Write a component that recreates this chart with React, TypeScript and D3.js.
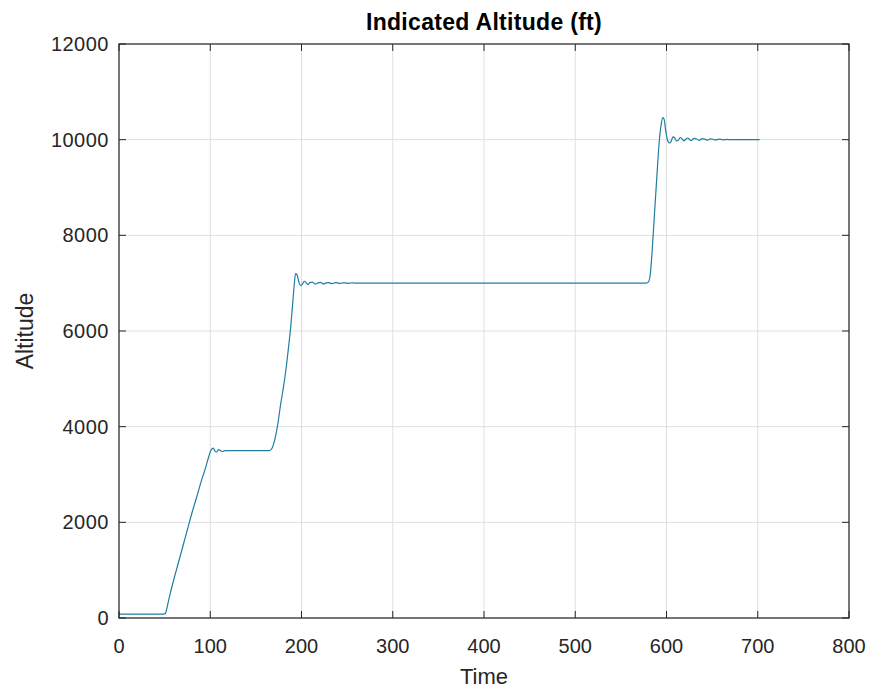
import React from 'react';
import * as d3 from 'd3';

// Indicated altitude trace
const timeVals = [
  0, 10, 20, 30, 40, 49, 51, 53, 56, 60, 65, 70, 75, 80, 85, 90, 95, 98, 100,
  102, 103.5, 105, 107, 109, 111, 113, 115, 118, 130, 145, 160, 165,
  168, 171, 174, 177, 180, 183, 186, 188, 190, 192, 193.5, 195, 197, 199, 201,
  203, 205, 207, 209, 212, 215, 218, 221, 224, 227, 230, 233, 236, 239, 242,
  245, 248, 251, 254, 257, 260, 300, 400, 500, 578,
  580, 582, 584, 586, 588, 590, 592, 594, 596, 597.5, 599, 601, 603, 605, 607,
  609, 611, 613, 615, 617, 619, 621, 623, 625, 627, 630, 633, 636, 639, 642,
  645, 648, 651, 654, 657, 660, 663, 666, 670, 680, 690, 702,
];
const altitudeVals = [
  80, 80, 80, 80, 80, 80, 100, 250, 500, 800, 1150, 1500, 1850, 2200, 2520, 2850, 3150, 3350, 3470,
  3540, 3550, 3490, 3470, 3520, 3505, 3480, 3495, 3500, 3500, 3500, 3500, 3500,
  3560, 3750, 4050, 4450, 4800, 5200, 5700, 6050, 6500, 6950, 7200, 7180, 7030, 6950, 6980,
  7040, 7010, 6970, 7010, 7020, 6980, 7005, 7015, 6985, 7005, 7012, 6990, 7005, 7010, 6992,
  7005, 7008, 6995, 7003, 7005, 7000, 7000, 7000, 7000, 7000,
  7020, 7150, 7600, 8200, 8800, 9400, 9950, 10300, 10460, 10420, 10200, 10000, 9930, 9960, 10060,
  10040, 9970, 9990, 10045, 10020, 9975, 10005, 10035, 10010, 9980, 10025, 10015, 9985, 10020, 10012,
  9988, 10015, 10008, 9992, 10010, 10005, 9995, 10005, 10000, 10000, 10000, 10000,
];
const xTicks = [0, 100, 200, 300, 400, 500, 600, 700, 800];
const yTicks = [0, 2000, 4000, 6000, 8000, 10000, 12000];

const W = 869;
const H = 690;
const plot = { left: 119, right: 849, top: 44, bottom: 618 };
const axisColor = '#262626';
const gridColor = '#dfdfdf';
const lineColor = '#1f7ea3';
const font = '"Liberation Sans", Arial, sans-serif';

export default function App() {
  const x = d3.scaleLinear().domain([0, 800]).range([plot.left, plot.right]);
  const y = d3.scaleLinear().domain([0, 12000]).range([plot.bottom, plot.top]);

  const points = timeVals.map((t, i) => [t, altitudeVals[i]] as [number, number]);
  const path = d3.line<[number, number]>()
    .x(d => x(d[0]))
    .y(d => y(d[1]))
    .curve(d3.curveMonotoneX)(points) || '';

  const tick = 7;

  return (
    <svg width={W} height={H} style={{ position: 'absolute', left: 0, top: 0, background: '#fff' }}>
      <rect x={0} y={0} width={W} height={H} fill="#fff" />

      {/* grid */}
      {xTicks.map(t => (
        <line key={'gx' + t} x1={x(t)} x2={x(t)} y1={plot.top} y2={plot.bottom} stroke={gridColor} strokeWidth={1} />
      ))}
      {yTicks.map(t => (
        <line key={'gy' + t} x1={plot.left} x2={plot.right} y1={y(t)} y2={y(t)} stroke={gridColor} strokeWidth={1} />
      ))}

      {/* data */}
      <path d={path} fill="none" stroke={lineColor} strokeWidth={1.2} />

      {/* box */}
      <rect x={plot.left} y={plot.top} width={plot.right - plot.left} height={plot.bottom - plot.top}
        fill="none" stroke={axisColor} strokeWidth={1.2} />

      {/* ticks */}
      {xTicks.map(t => (
        <g key={'tx' + t}>
          <line x1={x(t)} x2={x(t)} y1={plot.bottom} y2={plot.bottom - tick} stroke={axisColor} />
          <line x1={x(t)} x2={x(t)} y1={plot.top} y2={plot.top + tick} stroke={axisColor} />
          <text x={x(t)} y={plot.bottom + 35} textAnchor="middle" fontFamily={font} fontSize={20} fill={axisColor}>{t}</text>
        </g>
      ))}
      {yTicks.map(t => (
        <g key={'ty' + t}>
          <line x1={plot.left} x2={plot.left + tick} y1={y(t)} y2={y(t)} stroke={axisColor} />
          <line x1={plot.right} x2={plot.right - tick} y1={y(t)} y2={y(t)} stroke={axisColor} />
          <text x={plot.left - 10} y={y(t) + 7} textAnchor="end" fontFamily={font} fontSize={20}
            letterSpacing={0.5} fill={axisColor}>{t}</text>
        </g>
      ))}

      {/* labels */}
      <text x={(plot.left + plot.right) / 2} y={30} textAnchor="middle" fontFamily={font} fontSize={23}
        fontWeight="bold" letterSpacing={0.3} fill="#000">Indicated Altitude (ft)</text>
      <text x={(plot.left + plot.right) / 2} y={684} textAnchor="middle" fontFamily={font} fontSize={22}
        fill={axisColor}>Time</text>
      <text transform={`translate(33,${(plot.top + plot.bottom) / 2}) rotate(-90)`} textAnchor="middle"
        fontFamily={font} fontSize={23} fill={axisColor}>Altitude</text>
    </svg>
  );
}
